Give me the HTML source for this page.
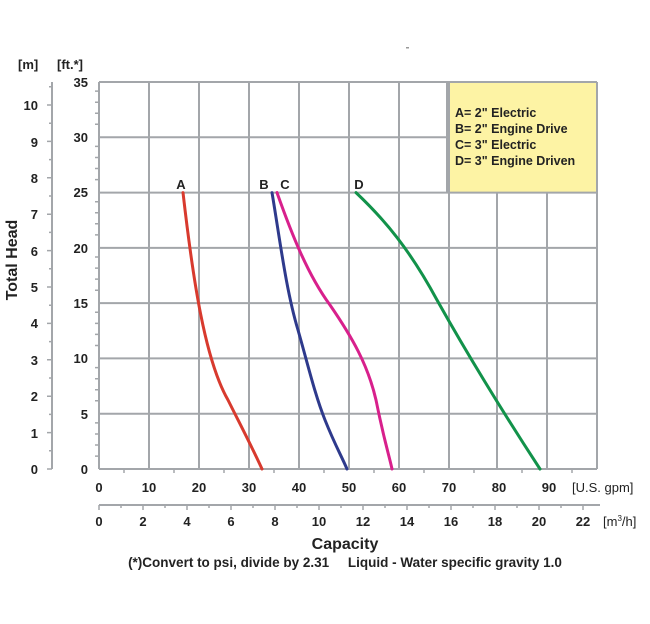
<!DOCTYPE html>
<html><head><meta charset="utf-8"><style>
html,body{margin:0;padding:0;background:#fff;}
svg{display:block;font-family:"Liberation Sans",Arial,sans-serif;}
</style></head><body>
<svg width="650" height="624" viewBox="0 0 650 624" xmlns="http://www.w3.org/2000/svg">
<rect width="650" height="624" fill="#fff"/>
<rect x="406" y="47" width="3" height="1.5" fill="#999"/>
<rect x="447" y="83" width="150" height="109" fill="#fdf3a4"/>
<g stroke="#a3a6aa" stroke-width="2" fill="none">
<path d="M99 82V469M149 82V469M199 82V469M249 82V469M299 82V469M349 82V469M399 82V469M449 82V469M497 192V469M547 192V469M597 82V469"/>
<path d="M99 82H597M99 137.3H447M99 192.6H597M99 247.9H597M99 303.1H597M99 358.4H597M99 413.7H597M99 469H597"/>
<path d="M447 82V192"/>
<path d="M52 82V469"/>
<path d="M99 505H600"/>
</g>
<g stroke="#a3a6aa" stroke-width="1.5">
<path d="M95 91.1H99M95 102.2H99M95 113.2H99M95 124.3H99M95 146.4H99M95 157.5H99M95 168.5H99M95 179.6H99M95 201.7H99M95 212.8H99M95 223.8H99M95 234.9H99M95 257H99M95 268.1H99M95 279.1H99M95 290.2H99M95 312.3H99M95 323.4H99M95 334.4H99M95 345.5H99M95 367.6H99M95 378.7H99M95 389.7H99M95 400.8H99M95 422.9H99M95 434H99M95 445H99M95 456.1H99"/>
<path d="M47 469H52M47 432.6H52M47 396.2H52M47 359.8H52M47 323.4H52M47 287H52M47 250.6H52M47 214.2H52M47 177.8H52M47 141.4H52M47 105H52"/>
<path d="M49 450.8H52M49 414.4H52M49 378H52M49 341.6H52M49 305.2H52M49 268.8H52M49 232.4H52M49 196H52M49 159.6H52M49 123.2H52M49 86.8H52"/>
<path d="M124 469V473M174 469V473M224 469V473M274 469V473M324 469V473M374 469V473M424 469V473M474 469V473M522 469V473M572 469V473"/>
<path d="M99 505V510M121 505V508M143 505V510M165 505V508M187 505V510M209 505V508M231 505V510M253 505V508M275 505V510M297 505V508M319 505V510M341 505V508M363 505V510M385 505V508M407 505V510M429 505V508M451 505V510M473 505V508M495 505V510M517 505V508M539 505V510M561 505V508M583 505V510"/>
</g>
<g fill="none" stroke-width="3" stroke-linecap="round">
<path stroke="#d83a2e" d="M183 192.6 C193 280,205 360,228 400 C242 428,252 447,262 469"/>
<path stroke="#2e3a8c" d="M272 192.6 C280 240,286 290,298 330 C308 365,315 395,325 420 C335 445,341 455,347 469"/>
<path stroke="#d8208c" d="M277 192.6 C292 235,308 275,330 305 C352 337,368 365,376 400 C384 440,389 455,392 469"/>
<path stroke="#12924a" d="M356 192.6 C385 220,410 250,437 300 C465 350,495 400,540 469"/>
</g>
<g font-weight="bold" font-size="13" fill="#222">
<text x="181" y="189" text-anchor="middle">A</text>
<text x="264" y="189" text-anchor="middle">B</text>
<text x="285" y="189" text-anchor="middle">C</text>
<text x="359" y="189" text-anchor="middle">D</text>
</g>
<g font-weight="bold" font-size="12.5" fill="#222">
<text x="455" y="117">A= 2" Electric</text>
<text x="455" y="133">B= 2" Engine Drive</text>
<text x="455" y="149">C= 3" Electric</text>
<text x="455" y="165">D= 3" Engine Driven</text>
</g>
<g font-weight="bold" font-size="13" fill="#222" text-anchor="end">
<text x="88" y="87">35</text><text x="88" y="142">30</text><text x="88" y="197">25</text><text x="88" y="253">20</text><text x="88" y="308">15</text><text x="88" y="363">10</text><text x="88" y="419">5</text><text x="88" y="474">0</text>
<text x="38" y="474">0</text><text x="38" y="438">1</text><text x="38" y="401">2</text><text x="38" y="365">3</text><text x="38" y="328">4</text><text x="38" y="292">5</text><text x="38" y="256">6</text><text x="38" y="219">7</text><text x="38" y="183">8</text><text x="38" y="147">9</text><text x="38" y="110">10</text>
</g>
<g font-weight="bold" font-size="13" fill="#222">
<text x="18" y="69">[m]</text><text x="57" y="69">[ft.*]</text>
</g>
<text transform="translate(17,260) rotate(-90)" text-anchor="middle" font-weight="bold" font-size="16" fill="#222">Total Head</text>
<g font-weight="bold" font-size="13" fill="#222" text-anchor="middle">
<text x="99" y="492">0</text><text x="149" y="492">10</text><text x="199" y="492">20</text><text x="249" y="492">30</text><text x="299" y="492">40</text><text x="349" y="492">50</text><text x="399" y="492">60</text><text x="449" y="492">70</text><text x="499" y="492">80</text><text x="549" y="492">90</text>
<text x="99" y="526">0</text><text x="143" y="526">2</text><text x="187" y="526">4</text><text x="231" y="526">6</text><text x="275" y="526">8</text><text x="319" y="526">10</text><text x="363" y="526">12</text><text x="407" y="526">14</text><text x="451" y="526">16</text><text x="495" y="526">18</text><text x="539" y="526">20</text><text x="583" y="526">22</text>
</g>
<g font-size="13" fill="#222">
<text x="572" y="492">[U.S. gpm]</text>
<text x="603" y="526">[m<tspan font-size="8" dy="-5">3</tspan><tspan dy="5">/h]</tspan></text>
</g>
<text x="345" y="549" text-anchor="middle" font-weight="bold" font-size="16" fill="#222">Capacity</text>
<text x="345" y="567" text-anchor="middle" font-weight="bold" font-size="13.5" fill="#222" xml:space="preserve">(*)Convert to psi, divide by 2.31     Liquid - Water specific gravity 1.0</text>
</svg>
</body></html>
